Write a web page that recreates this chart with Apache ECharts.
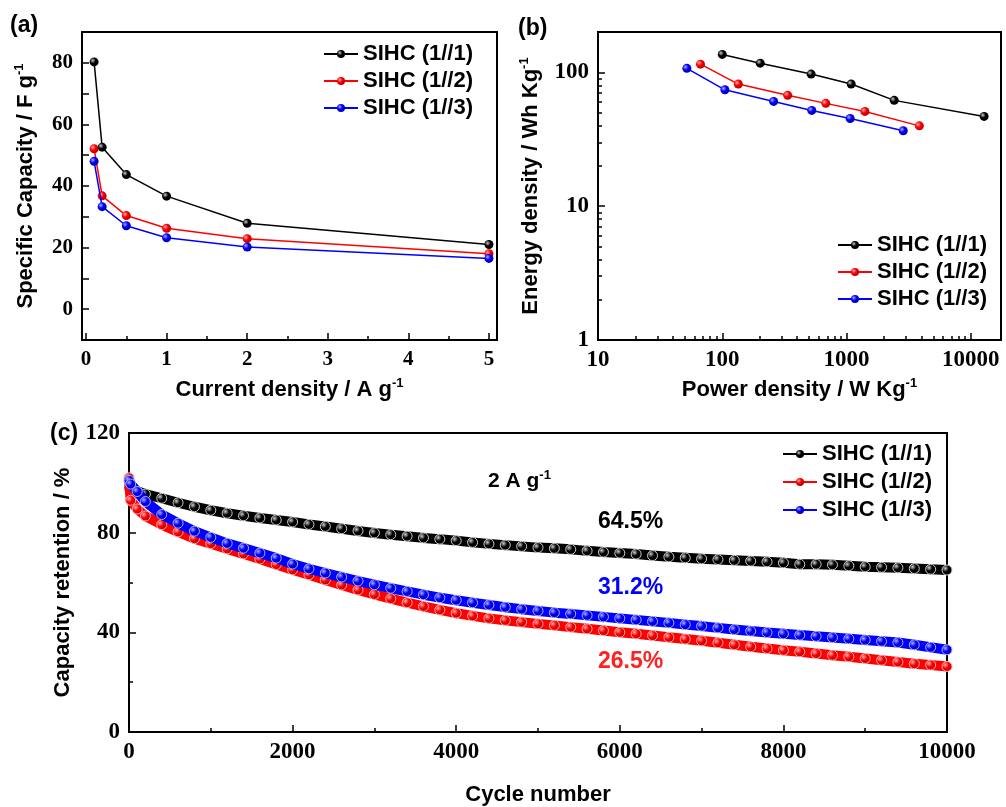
<!DOCTYPE html>
<html>
<head>
<meta charset="utf-8">
<script src="https://cdn.jsdelivr.net/npm/echarts@6/dist/echarts.min.js"></script>
<style>
  html, body { margin: 0; padding: 0; background: #fff; }
  #main { width: 1006px; height: 807px; }
</style>
</head>
<body>
<div id="main"></div>
<script>
// (a) specific capacity vs current density
const currentDensity = [0.1, 0.2, 0.5, 1, 2, 5]
const capacity11 = [80.3, 52.6, 43.7, 36.7, 27.9, 21.0]
const capacity12 = [52.1, 36.8, 30.4, 26.3, 22.9, 18.0]
const capacity13 = [48.0, 33.3, 27.1, 23.2, 20.2, 16.5]

// (b) Ragone plot
const power11 = [100, 202, 519, 1090, 2420, 12800]
const energy11 = [136, 117, 97, 81.7, 61.7, 46.8]
const power12 = [66.8, 134.5, 336, 681, 1406, 3855]
const energy12 = [115, 81.7, 67.3, 58.6, 51, 39.8]
const power13 = [51.9, 105, 259, 525, 1070, 2860]
const energy13 = [107, 74, 60.6, 51.9, 45.2, 36.6]

// (c) cycling at 2 A g-1
const cycles = [0, 20, 100, 200, 400, 600, 800, 1000, 1200, 1400, 1600, 1800, 2000,
  2200, 2400, 2600, 2800, 3000, 3200, 3400, 3600, 3800, 4000, 4200, 4400, 4600, 4800, 5000,
  5200, 5400, 5600, 5800, 6000, 6200, 6400, 6600, 6800, 7000, 7200, 7400, 7600, 7800, 8000,
  8200, 8400, 8600, 8800, 9000, 9200, 9400, 9600, 9800, 10000]
const retention11 = [98, 97.6, 96.6, 95.5, 93.8, 92.0, 90.4, 89.0, 87.8, 86.8, 85.9, 85.1, 84.3,
  83.3, 82.5, 81.6, 80.7, 79.9, 79.2, 78.6, 77.9, 77.4, 76.8, 76.1, 75.5, 75.0, 74.5, 74.0,
  73.7, 73.3, 72.7, 72.2, 71.8, 71.4, 70.8, 70.3, 69.9, 69.5, 69.2, 68.9, 68.6, 68.3, 67.9,
  67.3, 67.3, 67.1, 66.7, 66.3, 66.1, 65.9, 65.6, 65.3, 65.0]
const retention12 = [102, 93, 89.5, 86.7, 83.2, 80.3, 77.6, 75.6, 73.5, 71.5, 69.4, 67.2, 65.1,
  63.1, 61.0, 59.0, 57.0, 55.2, 53.5, 51.9, 50.4, 49.0, 47.7, 46.6, 45.6, 44.8, 44.1, 43.4,
  42.8, 42.1, 41.4, 40.7, 40.0, 39.4, 38.7, 38.0, 37.3, 36.6, 35.8, 35.0, 34.2, 33.5, 32.8,
  32.2, 31.5, 30.8, 30.2, 29.5, 28.8, 28.1, 27.4, 26.9, 26.3]
const retention13 = [101, 99.5, 96.5, 92.5, 87.3, 83.8, 80.6, 78.1, 75.7, 73.8, 71.8, 69.8, 67.4,
  65.5, 63.8, 62.2, 60.6, 59.1, 57.7, 56.4, 55.1, 53.9, 52.9, 51.9, 51.0, 50.1, 49.3, 48.6,
  47.9, 47.4, 46.8, 46.2, 45.6, 45.0, 44.4, 43.8, 43.1, 42.5, 41.8, 41.1, 40.5, 39.9, 39.4,
  38.9, 38.4, 37.9, 37.4, 36.9, 36.4, 35.9, 35.0, 34.0, 33.0]

const names = ['SIHC (1//1)', 'SIHC (1//2)', 'SIHC (1//3)']
const colors = ['#000000', '#ff0000', '#0000ff']
const darks = ['#000000', '#b00000', '#0000a0']
const lights = ['#cccccc', '#ffb0b0', '#b0b0ff']

// tick positions
const ticksAx = [0, 1, 2, 3, 4, 5]
const minorAx = [0.5, 1.5, 2.5, 3.5, 4.5]
const ticksAy = [0, 10, 20, 30, 40, 50, 60, 70, 80]
const labelsAy = [0, 20, 40, 60, 80]
const ticksBx = [10, 100, 1000, 10000]
const minorBx = [20, 30, 40, 50, 60, 70, 80, 90, 200, 300, 400, 500, 600, 700, 800, 900,
  2000, 3000, 4000, 5000, 6000, 7000, 8000, 9000]
const ticksBy = [1, 10, 100]
const minorBy = [2, 3, 4, 5, 6, 7, 8, 9, 20, 30, 40, 50, 60, 70, 80, 90]
const ticksCx = [0, 2000, 4000, 6000, 8000, 10000]
const minorCx = [1000, 3000, 5000, 7000, 9000]
const ticksCy = [0, 40, 80, 120]
const minorCy = [20, 60, 100]

const zip = (xs, ys) => xs.map((x, i) => [x, ys[i]])

const ball = (i) => ({
  type: 'radial', x: 0.35, y: 0.35, r: 0.7,
  colorStops: [
    { offset: 0, color: lights[i] },
    { offset: 0.45, color: colors[i] },
    { offset: 1, color: darks[i] },
  ],
})

const nameRich = {
  t: { fontFamily: 'Liberation Sans', fontWeight: 'bold', fontSize: 22, color: '#000', lineHeight: 26 },
  s: { fontFamily: 'Liberation Sans', fontWeight: 'bold', fontSize: 13, color: '#000', verticalAlign: 'top', lineHeight: 26 },
}

function mainAxis(opt) {
  return Object.assign({
    axisLine: { show: true, onZero: false, lineStyle: { color: '#000', width: 2 } },
    axisTick: { show: true, inside: true, length: 7, lineStyle: { color: '#000', width: 1.5 }, customValues: opt.ticks },
    axisLabel: {
      margin: 9, customValues: opt.labels || opt.ticks,
      formatter: (v) => String(v),
      fontFamily: 'Liberation Serif', fontWeight: 'bold', fontSize: opt.fontSize || 23, color: '#000',
    },
    splitLine: { show: false },
    nameLocation: 'middle',
    nameTextStyle: { rich: nameRich },
  }, opt.rest)
}

function minorAxis(opt) {
  return Object.assign({
    axisLine: { show: false, onZero: false },
    axisTick: { show: true, inside: true, length: 4, lineStyle: { color: '#000', width: 1.5 }, customValues: opt.ticks },
    axisLabel: { show: false },
    splitLine: { show: false },
  }, opt.rest)
}

function smallSeries(i, xi, yi, data) {
  return {
    name: names[i], type: 'line', xAxisIndex: xi, yAxisIndex: yi,
    data: data,
    symbol: 'circle', symbolSize: 9,
    lineStyle: { color: colors[i], width: 1.5 },
    itemStyle: { color: ball(i), borderWidth: 0 },
    z: 3 + i,
  }
}

function bandSeries(i, data) {
  return {
    name: names[i], type: 'line', xAxisIndex: 4, yAxisIndex: 4,
    data: data,
    symbol: 'circle', symbolSize: 10, showAllSymbol: true,
    lineStyle: { color: colors[i], width: 10 },
    itemStyle: { color: ball(i), borderColor: lights[i], borderWidth: 1 },
    z: 3 + i,
  }
}

const legendText = { fontFamily: 'Liberation Sans', fontWeight: 'bold', fontSize: 22, color: '#000' }
const textStyleSans = { fontFamily: 'Liberation Sans', fontWeight: 'bold', fontSize: 23, fill: '#000' }

const myChart = echarts.init(document.getElementById('main'))
myChart.setOption({
  animation: false,
  backgroundColor: '#fff',
  grid: [
    { left: 82, top: 32, width: 415, height: 308, show: true, borderColor: '#000', borderWidth: 2 },
    { left: 598, top: 32, width: 403, height: 308, show: true, borderColor: '#000', borderWidth: 2 },
    { left: 129, top: 433, width: 818, height: 303, show: true, borderColor: '#000', borderWidth: 2 },
  ],
  xAxis: [
    mainAxis({ ticks: ticksAx, fontSize: 21, rest: { gridIndex: 0, type: 'value', min: -0.05, max: 5.1, position: 'bottom',
      name: '{t|Current density / A g}{s|-1}', nameGap: 37 } }),
    minorAxis({ ticks: minorAx, rest: { gridIndex: 0, type: 'value', min: -0.05, max: 5.1, position: 'bottom' } }),
    mainAxis({ ticks: ticksBx, rest: { gridIndex: 1, type: 'log', min: 10, max: 17500, position: 'bottom',
      name: '{t|Power density / W Kg}{s|-1}', nameGap: 37 } }),
    minorAxis({ ticks: minorBx, rest: { gridIndex: 1, type: 'log', min: 10, max: 17500, position: 'bottom' } }),
    mainAxis({ ticks: ticksCx, rest: { gridIndex: 2, type: 'value', min: 0, max: 10000, position: 'bottom',
      name: '{t|Cycle number}', nameGap: 50 } }),
    minorAxis({ ticks: minorCx, rest: { gridIndex: 2, type: 'value', min: 0, max: 10000, position: 'bottom' } }),
  ],
  yAxis: [
    mainAxis({ ticks: ticksAy, labels: labelsAy, fontSize: 21, rest: { gridIndex: 0, type: 'value', min: -10, max: 90, position: 'left',
      name: '{t|Specific Capacity / F g}{s|-1}', nameGap: 43 } }),
    mainAxis({ ticks: ticksBy, rest: { gridIndex: 1, type: 'log', min: 1, max: 200, position: 'left',
      name: '{t|Energy density / Wh Kg}{s|-1}', nameGap: 54 } }),
    minorAxis({ ticks: minorBy, rest: { gridIndex: 1, type: 'log', min: 1, max: 200, position: 'left' } }),
    minorAxis({ ticks: minorCy, rest: { gridIndex: 2, type: 'value', min: 0, max: 120, position: 'left' } }),
    mainAxis({ ticks: ticksCy, rest: { gridIndex: 2, type: 'value', min: 0, max: 120, position: 'left',
      name: '{t|Capacity retention / %}', nameGap: 53 } }),
  ],
  legend: [
    { data: names, orient: 'vertical', left: 318, top: 38, itemWidth: 34, itemHeight: 10, itemGap: 5,
      textStyle: legendText, selectedMode: false },
    { data: names, orient: 'vertical', left: 832, top: 229, itemWidth: 34, itemHeight: 10, itemGap: 5,
      textStyle: legendText, selectedMode: false },
    { data: names, orient: 'vertical', left: 777, top: 438, itemWidth: 34, itemHeight: 10, itemGap: 6,
      textStyle: legendText, selectedMode: false },
  ],
  graphic: [
    { type: 'text', left: 10, top: 14, style: Object.assign({}, textStyleSans, { text: '(a)' }) },
    { type: 'text', left: 518, top: 17, style: Object.assign({}, textStyleSans, { text: '(b)' }) },
    { type: 'text', left: 50, top: 422, style: Object.assign({}, textStyleSans, { text: '(c)' }) },
    { type: 'text', left: 488, top: 469, style: {
      text: '{t|2 A g}{s|-1}',
      rich: { t: { fontFamily: 'Liberation Sans', fontWeight: 'bold', fontSize: 21, fill: '#000', lineHeight: 25 },
              s: { fontFamily: 'Liberation Sans', fontWeight: 'bold', fontSize: 13, fill: '#000', verticalAlign: 'top', lineHeight: 25 } } } },
    { type: 'text', left: 598, top: 510, style: Object.assign({}, textStyleSans, { text: '64.5%' }) },
    { type: 'text', left: 598, top: 576, style: Object.assign({}, textStyleSans, { text: '31.2%', fill: '#0000ff' }) },
    { type: 'text', left: 598, top: 650, style: Object.assign({}, textStyleSans, { text: '26.5%', fill: '#ff2020' }) },
  ],
  series: [
    smallSeries(0, 0, 0, zip(currentDensity, capacity11)),
    smallSeries(1, 0, 0, zip(currentDensity, capacity12)),
    smallSeries(2, 0, 0, zip(currentDensity, capacity13)),
    smallSeries(0, 2, 1, zip(power11, energy11)),
    smallSeries(1, 2, 1, zip(power12, energy12)),
    smallSeries(2, 2, 1, zip(power13, energy13)),
    bandSeries(0, zip(cycles, retention11)),
    bandSeries(1, zip(cycles, retention12)),
    bandSeries(2, zip(cycles, retention13)),
  ],
})
</script>
</body>
</html>
